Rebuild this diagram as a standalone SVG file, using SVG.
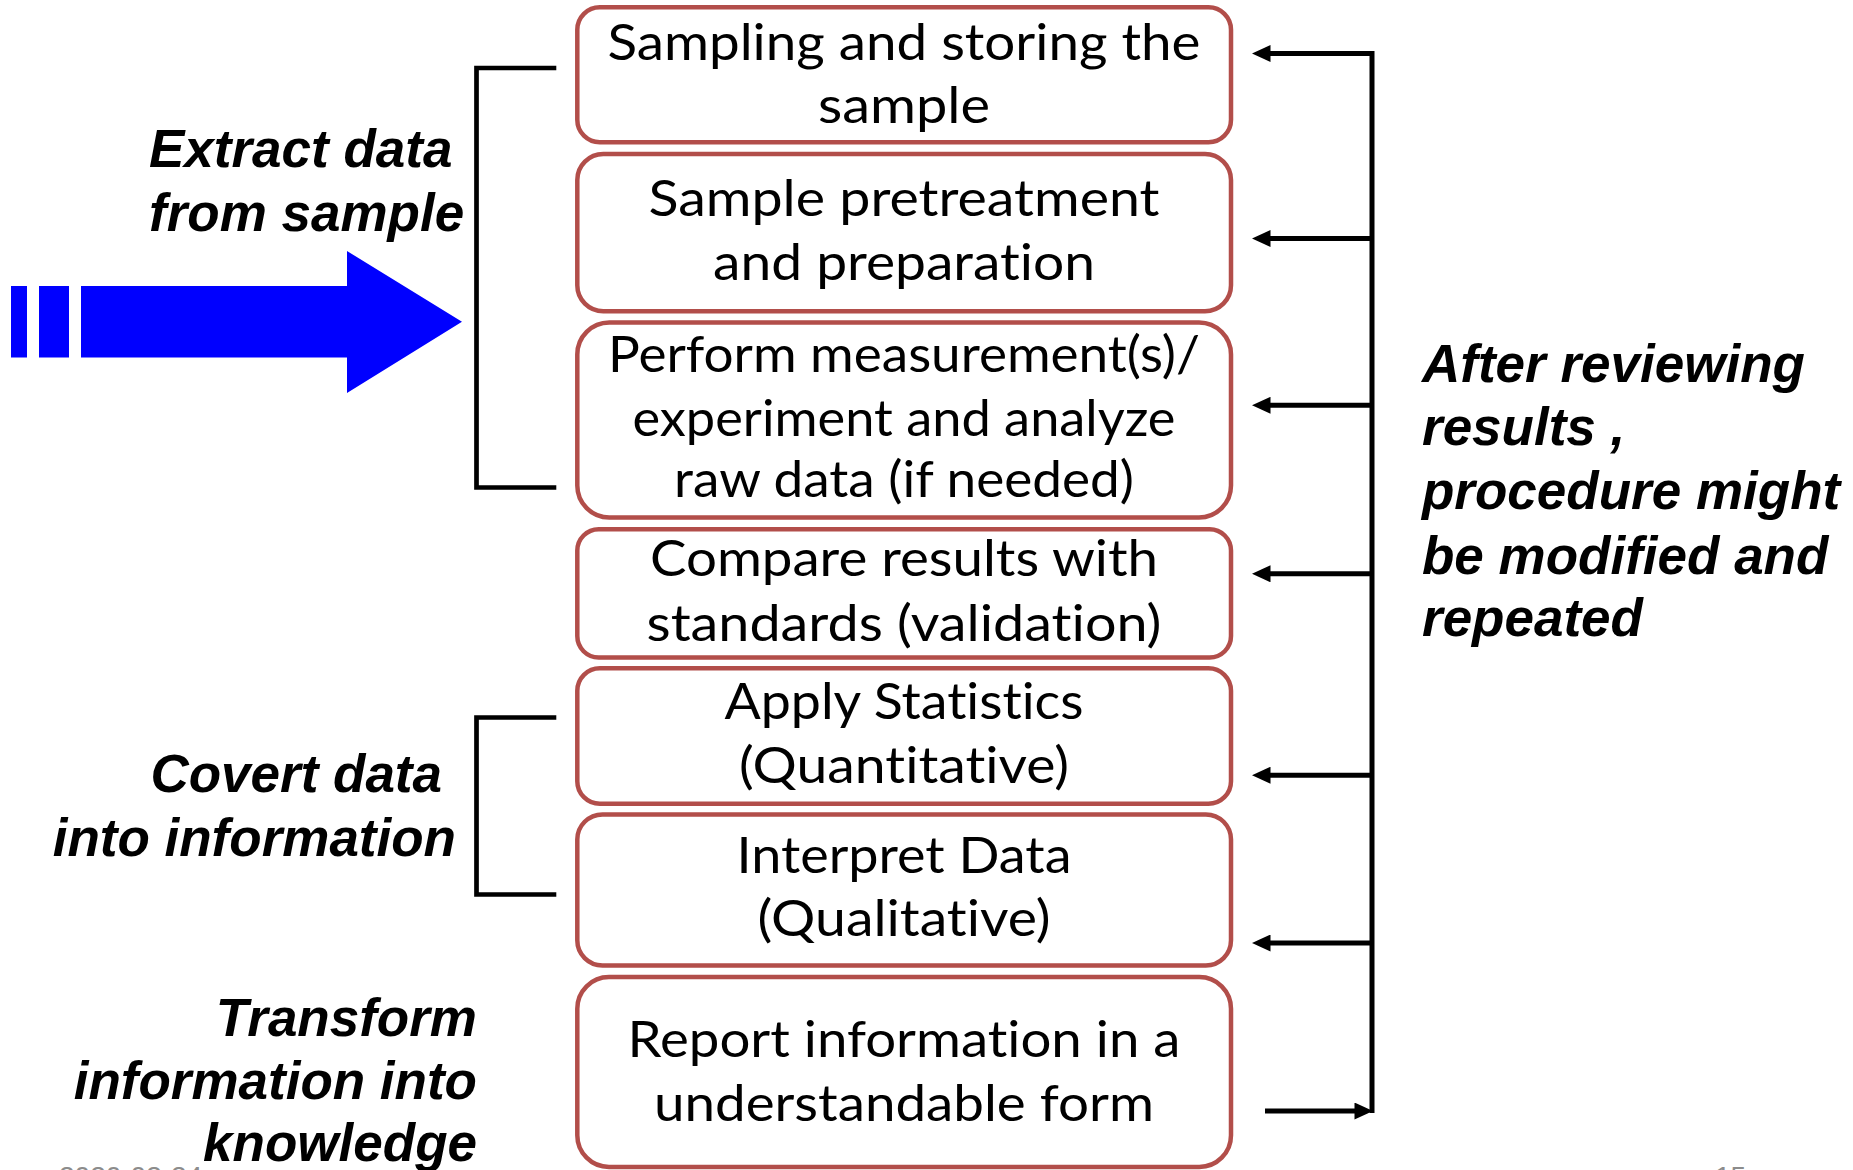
<svg xmlns="http://www.w3.org/2000/svg" width="1853" height="1170" viewBox="0 0 1853 1170">
  <style>
    .box { fill: #ffffff; stroke: #b24e4a; stroke-width: 4.5; }
    .step { font-family: Lato, "Open Sans", "Liberation Sans", sans-serif; font-size: 50px; fill: #000000; text-anchor: middle; font-variant-ligatures: none; font-feature-settings: "liga" 0, "clig" 0; }
    .label { font-family: "Liberation Sans", Arial, sans-serif; font-size: 53px; font-weight: bold; font-style: italic; fill: #000000; }
    .end { text-anchor: end; }
    .bracket { fill: none; stroke: #000000; stroke-width: 4.7; stroke-linejoin: miter; }
    .link { fill: none; stroke: #000000; stroke-width: 5; stroke-linejoin: miter; }
    .footer { font-family: "Liberation Sans", Arial, sans-serif; font-size: 28px; fill: #8c8c8c; }
  </style>
  <defs>
    <marker id="head" markerUnits="userSpaceOnUse" markerWidth="19" markerHeight="17" viewBox="0 0 18.5 17" refX="8.5" refY="8.5" orient="auto">
      <path d="M0,0 L18.5,8.5 L0,17 Z" fill="#000000"/>
    </marker>
  </defs>

  <rect width="1853" height="1170" fill="#ffffff"/>

  <!-- page footer (date and page number), running off the bottom edge -->
  <g id="footer">
    <text class="footer" x="59" y="1186">2020-03-24</text>
    <text class="footer" x="1715" y="1186">15</text>
  </g>

  <!-- blue input arrow -->
  <g id="input-arrow" fill="#0000ff">
    <rect x="11" y="286" width="16" height="71.5"/>
    <rect x="39" y="286" width="30" height="71.5"/>
    <polygon points="81,286 347,286 347,251 462,321.7 347,393 347,357.5 81,357.5"/>
  </g>

  <!-- left-hand phase labels -->
  <g id="label-extract">
    <text class="label" x="149" y="166.5">Extract data</text>
    <text class="label" x="149" y="230.5">from sample</text>
  </g>
  <g id="label-convert">
    <text class="label end" x="442" y="791.7">Covert data</text>
    <text class="label end" x="456" y="855.7">into information</text>
  </g>
  <g id="label-transform">
    <text class="label end" x="477" y="1036">Transform</text>
    <text class="label end" x="477" y="1098.5">information into</text>
    <text class="label end" x="477" y="1161">knowledge</text>
  </g>
  <g id="label-review">
    <text class="label" x="1422" y="381.5">After reviewing</text>
    <text class="label" x="1422" y="444.5">results ,</text>
    <text class="label" x="1422" y="509">procedure might</text>
    <text class="label" x="1422" y="573.5">be modified and</text>
    <text class="label" x="1422" y="635.5">repeated</text>
  </g>

  <!-- process steps -->
  <g id="step-sampling">
    <rect class="box" x="577.3" y="7.3" width="653.7" height="135" rx="22.5" ry="22.5"/>
    <text class="step" x="904" y="59.5" textLength="593" lengthAdjust="spacingAndGlyphs">Sampling and storing the</text>
    <text class="step" x="904" y="123.2" textLength="172" lengthAdjust="spacingAndGlyphs">sample</text>
  </g>
  <g id="step-pretreatment">
    <rect class="box" x="577.3" y="154" width="653.7" height="157.3" rx="26" ry="26"/>
    <text class="step" x="904" y="216" textLength="511" lengthAdjust="spacingAndGlyphs">Sample pretreatment</text>
    <text class="step" x="904" y="280.3" textLength="382" lengthAdjust="spacingAndGlyphs">and preparation</text>
  </g>
  <g id="step-measurement">
    <rect class="box" x="577.3" y="322.5" width="653.7" height="195" rx="32" ry="32"/>
    <text class="step" x="904" y="372" textLength="592" lengthAdjust="spacingAndGlyphs">Perform measurement(s)/</text>
    <text class="step" x="904" y="435.7" textLength="543" lengthAdjust="spacingAndGlyphs">experiment and analyze</text>
    <text class="step" x="904" y="497.4" textLength="460" lengthAdjust="spacingAndGlyphs">raw data (if needed)</text>
  </g>
  <g id="step-validation">
    <rect class="box" x="577.3" y="529.2" width="653.7" height="128.3" rx="21.4" ry="21.4"/>
    <text class="step" x="904" y="576.3" textLength="508" lengthAdjust="spacingAndGlyphs">Compare results with</text>
    <text class="step" x="904" y="641.3" textLength="515" lengthAdjust="spacingAndGlyphs">standards (validation)</text>
  </g>
  <g id="step-statistics">
    <rect class="box" x="577.3" y="668.2" width="653.7" height="135.6" rx="22.6" ry="22.6"/>
    <text class="step" x="904" y="719" textLength="359" lengthAdjust="spacingAndGlyphs">Apply Statistics</text>
    <text class="step" x="904" y="783.3" textLength="330" lengthAdjust="spacingAndGlyphs">(Quantitative)</text>
  </g>
  <g id="step-interpret">
    <rect class="box" x="577.3" y="814.4" width="653.7" height="151.1" rx="25.2" ry="25.2"/>
    <text class="step" x="904" y="872.8" textLength="335" lengthAdjust="spacingAndGlyphs">Interpret Data</text>
    <text class="step" x="904" y="936.4" textLength="293" lengthAdjust="spacingAndGlyphs">(Qualitative)</text>
  </g>
  <g id="step-report">
    <rect class="box" x="577.3" y="977" width="653.7" height="190" rx="31.7" ry="31.7"/>
    <text class="step" x="904" y="1057.2" textLength="553" lengthAdjust="spacingAndGlyphs">Report information in a</text>
    <text class="step" x="904" y="1120.6" textLength="500" lengthAdjust="spacingAndGlyphs">understandable form</text>
  </g>

  <!-- brackets and feedback arrows -->
  <g id="connectors">
    <path class="bracket" d="M556.3,68 H476.5 V487.5 H556.3"/>
    <path class="bracket" d="M556.3,717.5 H476.5 V894.5 H556.3"/>

    <path class="link" d="M1372,1113 V53.5 H1262" marker-end="url(#head)"/>
    <line class="link" x1="1372" y1="238.5" x2="1262" y2="238.5" marker-end="url(#head)"/>
    <line class="link" x1="1372" y1="405.3" x2="1262" y2="405.3" marker-end="url(#head)"/>
    <line class="link" x1="1372" y1="573.8" x2="1262" y2="573.8" marker-end="url(#head)"/>
    <line class="link" x1="1372" y1="775.2" x2="1262" y2="775.2" marker-end="url(#head)"/>
    <line class="link" x1="1372" y1="943" x2="1262" y2="943" marker-end="url(#head)"/>
    <line class="link" x1="1265" y1="1111" x2="1363" y2="1111" marker-end="url(#head)"/>
  </g>
</svg>
